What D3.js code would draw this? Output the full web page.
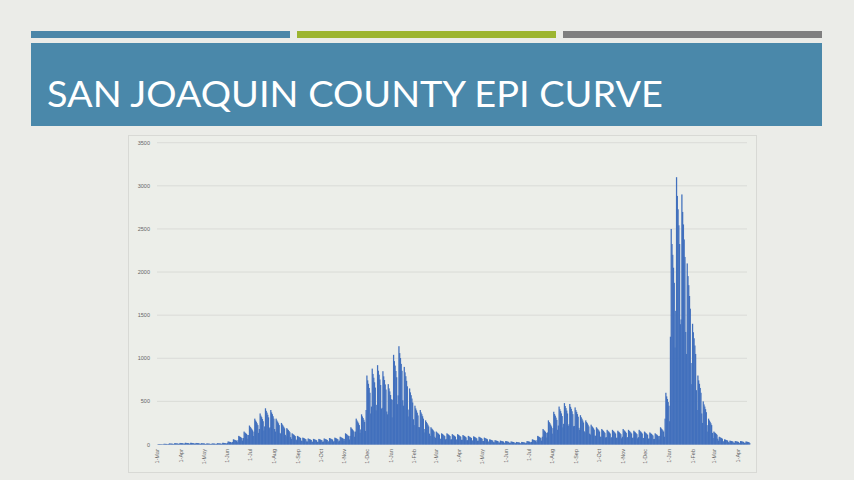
<!DOCTYPE html>
<html><head><meta charset="utf-8">
<script src="https://cdn.jsdelivr.net/npm/d3@7"></script>
<style>body{margin:0;background:#ebece8;}svg{display:block}</style></head>
<body><svg id="c" width="854" height="480"></svg>
<script>
const title = "SAN JOAQUIN COUNTY EPI CURVE";
const yTicks = [0,500,1000,1500,2000,2500,3000,3500];
const xTickLabels = ["1-Mar","1-Apr","1-May","1-Jun","1-Jul","1-Aug","1-Sep","1-Oct","1-Nov","1-Dec","1-Jan","1-Feb","1-Mar","1-Apr","1-May","1-Jun","1-Jul","1-Aug","1-Sep","1-Oct","1-Nov","1-Dec","1-Jan","1-Feb","1-Mar","1-Apr"];
const xTickDates = ["2020-03-01","2020-04-01","2020-05-01","2020-06-01","2020-07-01","2020-08-01","2020-09-01","2020-10-01","2020-11-01","2020-12-01","2021-01-01","2021-02-01","2021-03-01","2021-04-01","2021-05-01","2021-06-01","2021-07-01","2021-08-01","2021-09-01","2021-10-01","2021-11-01","2021-12-01","2022-01-01","2022-02-01","2022-03-01","2022-04-01"];
const startDate = "2020-03-01";
// weekly peak daily cases, starting week of 1-Mar-2020
const weeklyPeak = [5,8,12,15,18, 20,20,18,15, 12,12,15,20, 35,60,100,150,220, 300,360,420,400, 300,250,190,130, 100,80,70,65, 65,70,75,80,90, 130,200,300,350, 800,880,920,850,700,
 1040,1140,900,650, 450,400,280,200, 150,130,130,120, 120,110,100,95,90, 80,60,50,45, 40,35,30,30, 40,60,100,180,280, 380,440,480,470, 430,340,280,230, 200,180,170,170,160, 180,170,160,170, 150,140,130,200,600,
 2500,3100,2900,2100, 1400,800,500,300, 150,90,60,45, 40,40,35];
// relative level of each day within a week (reporting pattern)
const weekdayShape = [0.5,1.0,0.93,0.88,0.82,0.75,0.45];

const svg = d3.select("#c");
svg.append("rect").attr("x",0).attr("y",0).attr("width",854).attr("height",480).attr("fill","#ebece8");
[["#4a86a8",31,290],["#9cb530",297,556],["#7f7f7f",563,822]].forEach(([c,a,b])=>
  svg.append("rect").attr("x",a).attr("y",31).attr("width",b-a).attr("height",7).attr("fill",c));
svg.append("rect").attr("x",31).attr("y",43).attr("width",791).attr("height",83).attr("fill","#4a88aa");
svg.append("text").attr("x",47).attr("y",107).attr("fill","#fff").attr("font-family","Lato, 'Open Sans', sans-serif")
  .attr("font-size",37).attr("textLength",616).attr("lengthAdjust","spacingAndGlyphs").text(title);
svg.append("rect").attr("x",128.5).attr("y",135.5).attr("width",628).attr("height",337).attr("fill","#eceee9").attr("stroke","#d8d9d5");

const parse = d3.timeParse("%Y-%m-%d");
const t0 = parse(startDate);
const days = [];
weeklyPeak.forEach((v,w)=>weekdayShape.forEach((s,d)=>days.push({date:d3.timeDay.offset(t0,w*7+d), v:v*s})));

const x = d3.scaleTime().domain([t0, parse("2022-04-01")]).range([157.3,737.7]);
const y = d3.scaleLinear().domain([0,3500]).range([444.5,142.7]);
const g = svg.append("g");
g.selectAll("line.grid").data(yTicks).join("line").attr("x1",157).attr("x2",747)
  .attr("y1",d=>y(d)).attr("y2",d=>y(d)).attr("stroke","#d6d7d3").attr("stroke-width",0.8);
g.selectAll("text.yt").data(yTicks).join("text").attr("x",150).attr("y",d=>y(d)+2)
  .attr("text-anchor","end").attr("font-size",5.5).attr("fill","#666").attr("font-family","Liberation Sans, sans-serif").text(d=>d);
const bw = x(d3.timeDay.offset(t0,1))-x(t0);
g.selectAll("rect.bar").data(days).join("rect").attr("x",d=>x(d.date)).attr("width",bw+0.5)
  .attr("y",d=>y(d.v)).attr("height",d=>y(0)-y(d.v)).attr("fill","#4270bd");
g.selectAll("text.xt").data(xTickDates).join("text")
  .attr("transform",d=>`translate(${x(parse(d))+2},449) rotate(-90)`).attr("text-anchor","end")
  .attr("font-size",5.5).attr("fill","#666").attr("font-family","Liberation Sans, sans-serif").text((d,i)=>xTickLabels[i]);
</script></body></html>
